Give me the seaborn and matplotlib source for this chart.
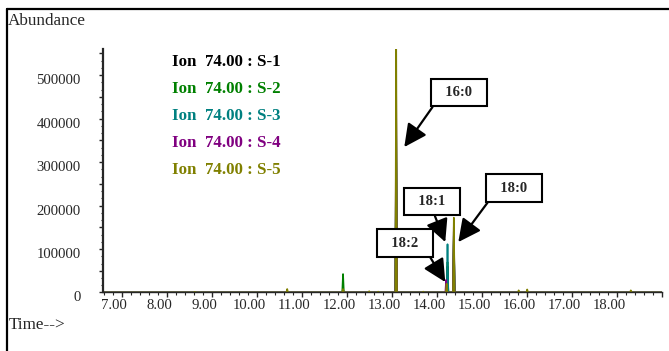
import seaborn as sns
import matplotlib.pyplot as plt
import matplotlib.ticker as mticker
from matplotlib.transforms import ScaledTranslation
from matplotlib.lines import Line2D
import pandas as pd

# chromatogram peaks: retention time (min), abundance
samples = ["S-1", "S-2", "S-3", "S-4", "S-5"]
colors = ["#000000", "#008000", "#008080", "#800080", "#808000"]

s1_rt = [11.91, 13.09, 14.23, 14.37]
s1_ab = [6000, 300000, 60000, 120000]
s2_rt = [11.91, 13.09, 14.23, 14.37]
s2_ab = [42500, 360000, 70000, 130000]
s3_rt = [11.91, 13.09, 14.23, 14.37]
s3_ab = [5000, 400000, 111000, 140000]
s4_rt = [11.91, 13.09, 14.20, 14.37]
s4_ab = [4000, 450000, 29000, 150000]
s5_rt = [8.62, 10.67, 11.91, 12.49, 12.69, 13.09, 13.69, 14.21, 14.37, 15.81, 16.00, 18.30]
s5_ab = [1500, 8000, 8000, 3000, 2000, 600000, 2000, 20000, 172000, 5000, 7000, 5000]

peak_rt = [s1_rt, s2_rt, s3_rt, s4_rt, s5_rt]
peak_ab = [s1_ab, s2_ab, s3_ab, s4_ab, s5_ab]

labels = ["16:0", "18:1", "18:2", "18:0"]
t_start, t_end = 6.58, 19.0
half_w = 0.018

rows = []
for name, rts, abs_ in zip(samples, peak_rt, peak_ab):
    rows.append((name, t_start, 0))
    for rt, ab in zip(rts, abs_):
        rows.append((name, rt - half_w, 0))
        rows.append((name, rt, ab))
        rows.append((name, rt + half_w, 0))
    rows.append((name, t_end, 0))
df = pd.DataFrame(rows, columns=["sample", "time", "abundance"])

sns.set_style("ticks")
plt.rcParams["font.family"] = ["Liberation Serif", "DejaVu Serif"]

fig = plt.figure(figsize=(6.69, 3.51), dpi=100)
ax = fig.add_axes([0.154, 0.1667, 0.836, 0.6937])

sns.lineplot(data=df, x="time", y="abundance", hue="sample", hue_order=samples,
             palette=colors, estimator=None, sort=False, legend=False, lw=1.2, ax=ax)

ax.set_xlim(t_start, t_end)
ax.set_ylim(0, 560000)
ax.set_xlabel("")
ax.set_ylabel("")
sns.despine(ax=ax)
ax.spines["left"].set_linewidth(1.6)
ax.spines["bottom"].set_linewidth(1.0)

ax.xaxis.set_major_locator(mticker.MultipleLocator(1))
ax.xaxis.set_minor_locator(mticker.MultipleLocator(0.2))
ax.xaxis.set_major_formatter(mticker.FuncFormatter(
    lambda v, p: f"{v:.2f}" if v <= 18.5 else ""))
ax.yaxis.set_major_locator(mticker.MultipleLocator(50000))
ax.yaxis.set_minor_locator(mticker.MultipleLocator(50000 / 3))
ax.yaxis.set_major_formatter(mticker.FuncFormatter(
    lambda v, p: f"{int(v)}" if v % 100000 == 0 else ""))
ax.tick_params(axis="x", which="major", length=3.5, width=1, pad=1.5, labelsize=10.6)
ax.tick_params(axis="x", which="minor", length=2, width=0.8)
ax.tick_params(axis="y", which="major", length=3, width=1, pad=13, labelsize=10.6)
ax.tick_params(axis="y", which="minor", length=1.5, width=0.8)

for lab in ax.get_yticklabels():
    lab.set_transform(lab.get_transform() + ScaledTranslation(0, -4 / 100, fig.dpi_scale_trans))
for lab in ax.get_xticklabels():
    lab.set_transform(lab.get_transform() + ScaledTranslation(-8 / 100, 0, fig.dpi_scale_trans))

# sample captions
for i, (name, c) in enumerate(zip(samples, colors)):
    fig.text(172 / 669, 1 - (62 + 27 * i) / 351, f"Ion  74.00 : {name}", color=c,
             fontsize=12.2, fontweight="bold", va="center", ha="left")

fig.text(8 / 669, 1 - 21 / 351, "Abundance", fontsize=12.3, va="center", ha="left")
fig.text(9 / 669, 1 - 325 / 351, "Time-->", fontsize=12.3, va="center", ha="left")

# outer frame
fig.add_artist(Line2D([7 / 669, 1], [1 - 9 / 351, 1 - 9 / 351], color="k", lw=1.6,
                      transform=fig.transFigure))
fig.add_artist(Line2D([7 / 669, 7 / 669], [0, 1 - 9 / 351], color="k", lw=1.6,
                      transform=fig.transFigure))

# peak annotations
tips = [(13.27, 334500), (14.18, 116000), (14.18, 24000), (14.47, 116000)]
boxes = [(14.48, 459800), (13.88, 209000), (13.28, 113800), (15.71, 240000)]
rel = [(0, 0), (0.5, 0), (1, 0), (0, 0)]
for lab, tip, box, rp in zip(labels, tips, boxes, rel):
    ax.annotate(f"  {lab}  ", xy=tip, xytext=box, ha="center", va="center",
                fontsize=10.5, fontweight="bold",
                bbox=dict(boxstyle="square,pad=0.5", fc="white", ec="k", lw=1.5),
                arrowprops=dict(arrowstyle="-|>,head_length=0.6,head_width=0.3",
                                color="k", lw=1.6, mutation_scale=23,
                                shrinkA=0, shrinkB=0, relpos=rp))

fig.savefig("out.png", dpi=100)
